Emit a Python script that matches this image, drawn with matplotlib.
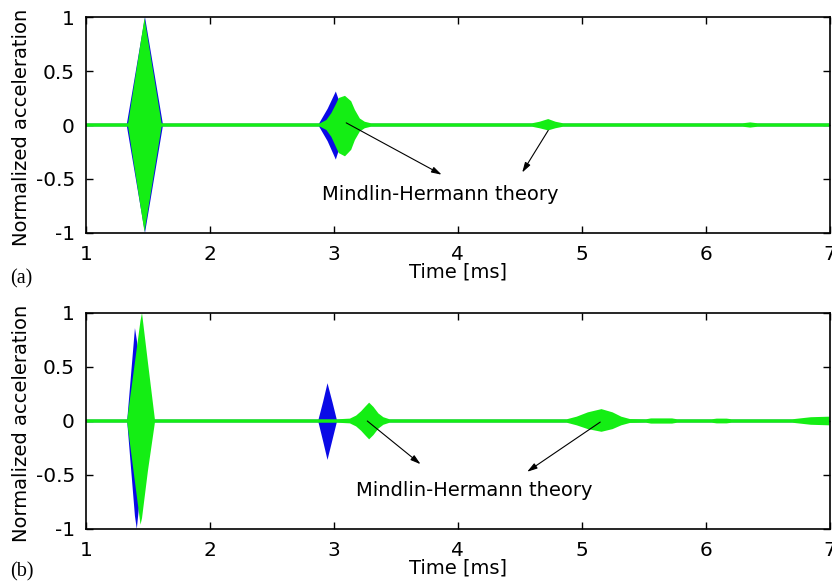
import matplotlib
matplotlib.use("Agg")
import matplotlib.pyplot as plt

plt.rcParams['font.family'] = ['DejaVu Sans']
plt.rcParams['axes.unicode_minus'] = False

# ---------------- data (envelopes) ----------------
# Panel (a)
blue_a_t  = [1.00, 1.33, 1.476, 1.62, 2.88, 2.95, 3.016, 3.05, 3.09, 3.13, 7.00]
blue_a_up = [0.012, 0.012, 1.0, 0.012, 0.012, 0.15, 0.31, 0.20, 0.06, 0.012, 0.012]
blue_a_lo = [-0.012, -0.012, -1.0, -0.012, -0.012, -0.15, -0.32, -0.20, -0.06, -0.012, -0.012]

green_a_t  = [1.00, 1.34, 1.472, 1.61, 2.89, 2.94, 2.98, 3.02, 3.04, 3.09, 3.14, 3.17, 3.21, 3.25, 3.30,
              4.60, 4.66, 4.73, 4.79, 4.85, 6.30, 6.36, 6.42, 7.00]
green_a_up = [0.016, 0.016, 0.99, 0.016, 0.016, 0.046, 0.11, 0.20, 0.25, 0.27, 0.22, 0.14, 0.06, 0.03, 0.016,
              0.016, 0.03, 0.055, 0.03, 0.016, 0.016, 0.024, 0.016, 0.016]
green_a_lo = [-0.016, -0.016, -0.99, -0.016, -0.016, -0.046, -0.11, -0.21, -0.26, -0.29, -0.23, -0.14, -0.06, -0.03, -0.016,
              -0.016, -0.03, -0.05, -0.03, -0.016, -0.016, -0.024, -0.016, -0.016]

# Panel (b)
blue_b_t  = [1.00, 1.333, 1.395, 1.41, 1.48, 1.52, 2.876, 2.914, 2.949, 2.99, 3.024, 7.00]
blue_b_up = [0.012, 0.012, 0.86, 0.75, 0.10, 0.012, 0.012, 0.18, 0.35, 0.17, 0.012, 0.012]
blue_b_lo = [-0.012, -0.012, -0.88, -1.0, -0.20, -0.012, -0.012, -0.19, -0.36, -0.17, -0.012, -0.012]

green_b_t  = [1.00, 1.333, 1.44, 1.452, 1.50, 1.556, 3.03, 3.13, 3.18, 3.22, 3.26, 3.285, 3.32, 3.36, 3.40, 3.45,
              4.88, 4.96, 5.05, 5.16, 5.25, 5.32, 5.39, 5.52, 5.56, 5.73, 5.77, 6.05, 6.09, 6.17, 6.21,
              6.70, 6.85, 7.00]
green_b_up = [0.016, 0.016, 0.93, 1.0, 0.54, 0.016, 0.016, 0.022, 0.05, 0.09, 0.14, 0.17, 0.13, 0.07, 0.035, 0.016,
              0.016, 0.04, 0.08, 0.11, 0.08, 0.04, 0.018, 0.016, 0.024, 0.024, 0.016, 0.016, 0.022, 0.022, 0.016,
              0.016, 0.035, 0.04]
green_b_lo = [-0.016, -0.016, -0.96, -0.90, -0.46, -0.016, -0.016, -0.022, -0.05, -0.09, -0.14, -0.17, -0.13, -0.07, -0.035, -0.016,
              -0.016, -0.04, -0.075, -0.10, -0.075, -0.04, -0.018, -0.016, -0.024, -0.024, -0.016, -0.016, -0.022, -0.022, -0.016,
              -0.016, -0.035, -0.04]

x_ticks = [1, 2, 3, 4, 5, 6, 7]
x_tick_labels = ['1', '2', '3', '4', '5', '6', '7']
y_ticks = [-1, -0.5, 0, 0.5, 1]
y_tick_labels = ['-1', '-0.5', '0', '0.5', '1']

annot_text = 'Mindlin-Hermann theory'
# (text x, text y), arrows as (start, end)
annot_a_text = (3.86, -0.64)
annot_a_arrows = [((3.10, 0.02), (3.87, -0.46)), ((4.73, -0.05), (4.52, -0.44))]
annot_b_text = (4.13, -0.64)
annot_b_arrows = [((3.27, 0.0), (3.70, -0.40)), ((5.15, -0.01), (4.56, -0.47))]

BLUE = '#0a0ae6'
GREEN = '#14ee14'

fig = plt.figure(figsize=(8.32, 5.86), dpi=100)
W, H = 832, 586
ax_a = fig.add_axes([86 / W, 1 - 233 / H, (829.5 - 86) / W, (233 - 17) / H])
ax_b = fig.add_axes([86 / W, 1 - 529 / H, (829.5 - 86) / W, (529 - 313) / H])


def draw(ax, bt, bu, bl, gt, gu, gl, ttext, arrows, tag, tag_y):
    ax.fill_between(bt, bl, bu, facecolor=BLUE, edgecolor='none', linewidth=0, zorder=2)
    ax.fill_between(gt, gl, gu, facecolor=GREEN, edgecolor='none', linewidth=0, zorder=3)
    ax.set_xlim(1, 7)
    ax.set_ylim(-1, 1)
    ax.set_xticks(x_ticks)
    ax.set_xticklabels(x_tick_labels)
    ax.set_yticks(y_ticks)
    ax.set_yticklabels(y_tick_labels)
    ax.tick_params(direction='in', top=True, right=True, length=5, width=1,
                   labelsize=14.5, colors='black')
    ax.tick_params(axis='x', pad=9)
    ax.tick_params(axis='y', pad=8)
    for s in ax.spines.values():
        s.set_linewidth(1.2)
        s.set_zorder(5)
    ax.set_xlabel('Time [ms]', fontsize=14, labelpad=-1.2)
    ax.set_ylabel('Normalized acceleration', fontsize=14)
    ax.yaxis.set_label_coords(-0.074, 0.49)
    ax.text(ttext[0], ttext[1], annot_text, fontsize=14, ha='center', va='center', zorder=6)
    for (st, en) in arrows:
        ax.annotate('', xy=en, xytext=st,
                    arrowprops=dict(arrowstyle='-|>,head_length=0.6,head_width=0.18',
                                    color='black', lw=0.8, shrinkA=0, shrinkB=0),
                    zorder=6)
    fig.text(10 / W, 1 - tag_y / H, tag, fontsize=14.5, family=['Liberation Serif'],
             ha='left', va='center')


draw(ax_a, blue_a_t, blue_a_up, blue_a_lo, green_a_t, green_a_up, green_a_lo,
     annot_a_text, annot_a_arrows, '(a)', 279)
draw(ax_b, blue_b_t, blue_b_up, blue_b_lo, green_b_t, green_b_up, green_b_lo,
     annot_b_text, annot_b_arrows, '(b)', 572)

fig.savefig('out.png', dpi=100)
